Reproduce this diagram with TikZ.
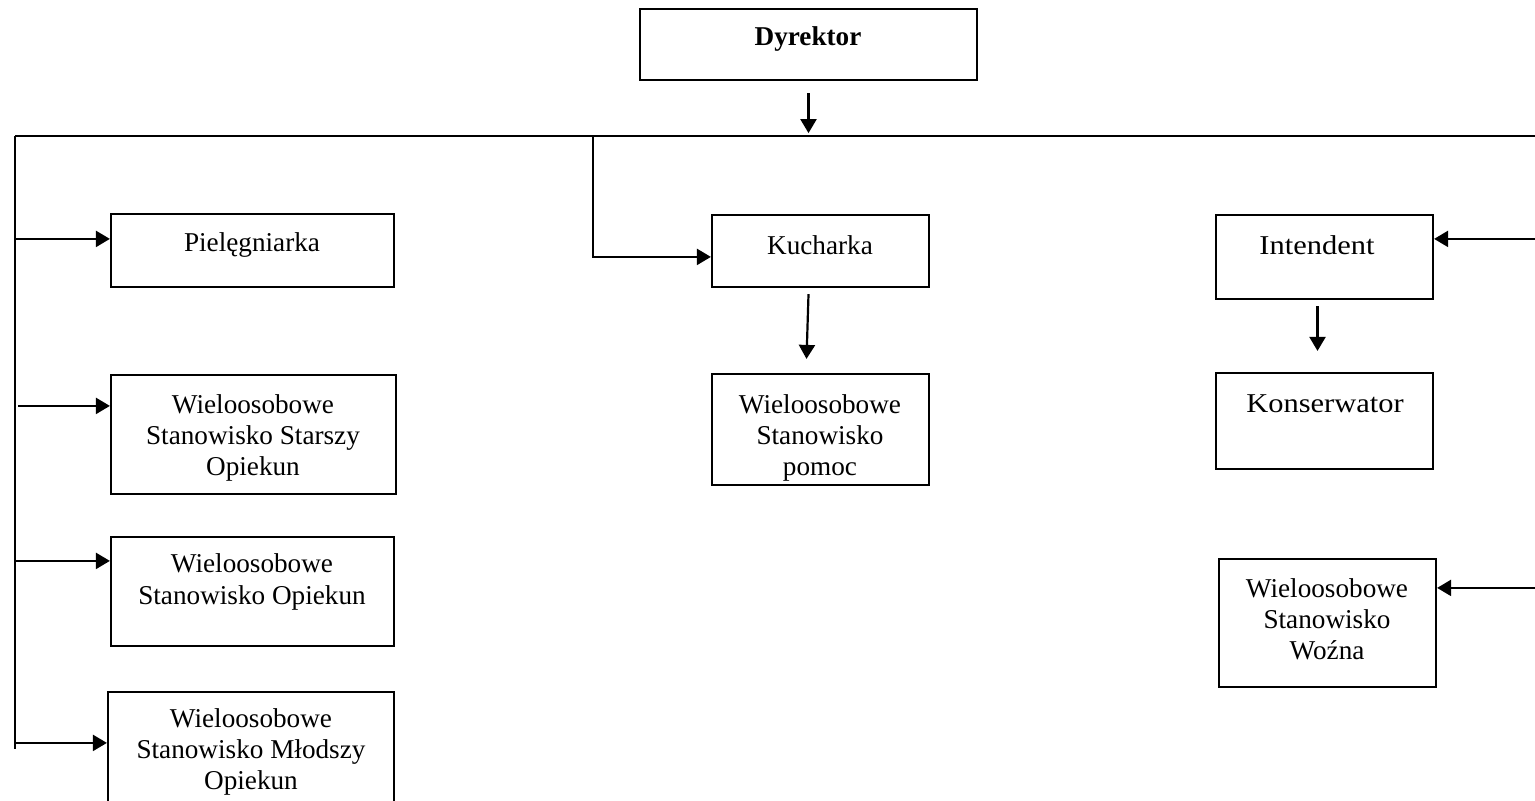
\documentclass[tikz,border=0pt]{standalone}
\usepackage{fontspec}
\setmainfont{Liberation Serif}
\newfontfamily\wideserif[FakeStretch=1.12]{Liberation Serif}
\usetikzlibrary{arrows.meta,calc,fit}
\tikzset{
  box/.style={draw,line width=1.1pt,inner sep=0pt,rectangle},
  txt/.style={align=center,inner sep=0pt,font=\fontsize{13.6}{15.6}\selectfont},
  wtxt/.style={align=center,inner sep=0pt,font=\fontsize{13.6}{15.6}\wideserif},
  conn/.style={line width=1.1pt},
  arr/.style={line width=1.1pt,-{Triangle[length=7pt,width=8pt]}}
}
\begin{document}
\begin{tikzpicture}[x=0.5pt,y=-0.5pt]
\useasboundingbox (0,0) rectangle (1535,800);
\clip (0,0) rectangle (1535,800);
\fill[white] (0,0) rectangle (1535,800);

% boxes
\node[box,fit={(640,9)(977,80)}] (dyr) {};
\node[box,fit={(111,214)(394,287)}] (pie) {};
\node[box,fit={(111,375)(396,494)}] (sta) {};
\node[box,fit={(111,537)(394,646)}] (opi) {};
\node[box,fit={(108,692)(394,830)}] (mlo) {};
\node[box,fit={(712,215)(929,287)}] (kuc) {};
\node[box,fit={(712,374)(929,485)}] (pom) {};
\node[box,fit={(1216,215)(1433,299)}] (int) {};
\node[box,fit={(1216,373)(1433,469)}] (kon) {};
\node[box,fit={(1219,559)(1436,687)}] (woz) {};

% texts
\node[txt,font=\fontsize{13.6}{15.6}\selectfont\bfseries] (tdyr) at (808,39) {Dyrektor};
\node[txt] (tpie) at (252,245) {Pielęgniarka};
\node[txt] (tsta) at (253,438) {Wieloosobowe\\Stanowisko Starszy\\Opiekun};
\node[txt] (topi) at (252,582) {Wieloosobowe\\Stanowisko Opiekun};
\node[txt] (tmlo) at (251,752) {Wieloosobowe\\Stanowisko Młodszy\\Opiekun};
\node[txt] (tkuc) at (820,245) {Kucharka};
\node[txt] (tpom) at (820,438) {Wieloosobowe\\Stanowisko\\pomoc};
\node[wtxt] (tint) at (1317,245) {Intendent};
\node[wtxt] (tkon) at (1325,404) {Konserwator};
\node[txt] (twoz) at (1327,619) {Wieloosobowe\\Stanowisko\\Woźna};

% bus coordinates
\coordinate (L0) at (15,136);
\coordinate (L1) at (15,749);
\coordinate (R0) at (1545,136);
\coordinate (K0) at (593,136);
\coordinate (D1) at ($(dyr.south)+(0,12)$);
\coordinate (D2) at ($(dyr.south)+(0,52)$);

% connectors
\draw[arr] (D1) -- (D2);
\draw[conn] (L0) -- (R0);
\draw[conn] (L0) -- (L1);

\coordinate (ap) at ($(pie.north west)+(0,26)$);
\coordinate (as) at ($(sta.north west)+(0,32)$);
\coordinate (ao) at ($(opi.north west)+(0,25)$);
\coordinate (am) at ($(mlo.north west)+(0,52)$);
\draw[arr] (L0 |- ap) -- (ap);
\draw[arr] ($(L0 |- as)+(3,0)$) -- (as);
\draw[arr] (L0 |- ao) -- (ao);
\draw[arr] (L0 |- am) -- (am);

\coordinate (ak) at ($(kuc.north west)+(0,43)$);
\draw[arr] (K0) -- (K0 |- ak) -- (ak);

\draw[arr] ($(kuc.south)+(-12,6)$) -- ($(pom.north)+(-14,-14)$);

\coordinate (ai) at ($(int.north east)+(0,25)$);
\draw[arr] ($(ai)+(115,0)$) -- (ai);
\draw[arr] ($(int.south)+(-7,6)$) -- ($(kon.north)+(-7,-21)$);

\coordinate (aw) at ($(woz.north east)+(0,30)$);
\draw[arr] ($(aw)+(112,0)$) -- (aw);
\end{tikzpicture}
\end{document}
